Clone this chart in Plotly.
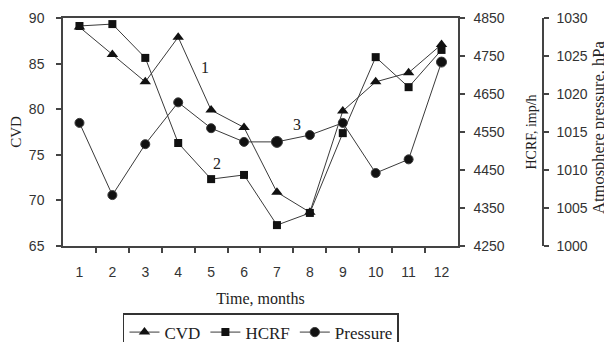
import plotly.graph_objects as go

months = [1, 2, 3, 4, 5, 6, 7, 8, 9, 10, 11, 12]
cvd = [89.0, 86.0, 83.0, 87.9, 79.9, 78.0, 70.9, 68.7, 79.8, 83.0, 84.0, 87.1]
hcrf = [4829, 4834, 4745, 4521, 4426, 4437, 4305, 4337, 4547, 4747, 4668, 4766]
pressure = [1016.2, 1006.7, 1013.4, 1018.9, 1015.5, 1013.7, 1013.7, 1014.6, 1016.2, 1009.6, 1011.4, 1024.2]

cvd_ticks = [65, 70, 75, 80, 85, 90]
hcrf_ticks = [4250, 4350, 4450, 4550, 4650, 4750, 4850]
pres_ticks = [1000, 1005, 1010, 1015, 1020, 1025, 1030]
boundaries = [m + 0.5 for m in months[:-1]]

LINE = "#3a3a3a"
MARK = "#111111"
AX = "#444444"
SERIF = "Liberation Serif"
SANS = "Liberation Sans"

XEND = 0.7328
PPOS = 0.8905

fig = go.Figure()
fig.add_trace(go.Scatter(x=months, y=cvd, name="CVD", mode="lines+markers",
                         line=dict(color=LINE, width=1),
                         marker=dict(symbol="triangle-up", size=10, color=MARK, opacity=1),
                         xaxis="x", yaxis="y"))
fig.add_trace(go.Scatter(x=months, y=hcrf, name="HCRF", mode="lines+markers",
                         line=dict(color=LINE, width=1),
                         marker=dict(symbol="square", size=8, color=MARK, opacity=1),
                         xaxis="x", yaxis="y2"))
psizes = [9] * len(months)
psizes[6] = 11
psizes[11] = 10
fig.add_trace(go.Scatter(x=months, y=pressure, name="Pressure", mode="lines+markers",
                         line=dict(color=LINE, width=1),
                         marker=dict(symbol="circle", size=psizes, color=MARK, opacity=1),
                         xaxis="x", yaxis="y3"))

tickfont = dict(family=SANS, size=14, color="#333333")
common_y = dict(showgrid=False, zeroline=False, linecolor=AX, linewidth=1.5,
                tickcolor=AX, tickwidth=1.5, ticklen=5, tickfont=tickfont)
inner = dict(ticks="inside", showticklabels=False, showline=False, showgrid=False,
             zeroline=False, tickcolor=AX, tickwidth=1.5, ticklen=5)

fig.update_layout(
    width=604, height=334,
    margin=dict(l=55, r=10, t=10, b=96, autoexpand=False),
    paper_bgcolor="white", plot_bgcolor="white",
    showlegend=True,
    xaxis=dict(domain=[0, XEND], range=[0.5, 12.5], tickvals=months,
               ticktext=[str(m) for m in months], ticks="", showgrid=False,
               zeroline=False, showline=True, mirror=True, linecolor=AX, linewidth=1.5,
               tickfont=tickfont, ticklabelstandoff=12,
               minor=dict(tickvals=boundaries, ticks="outside", ticklen=5,
                          tickcolor=AX, tickwidth=1.5, showgrid=False),
               title=dict(text="Time, months", font=dict(family=SERIF, size=16, color="#222"),
                          standoff=14),
               anchor="y"),
    xaxis2=dict(domain=[0, XEND], range=[0.5, 12.5], overlaying="x", anchor="y",
                tickvals=boundaries, **inner),
    yaxis=dict(range=[65, 90], tickvals=cvd_ticks, ticks="outside", showline=True,
               ticklabelstandoff=9, anchor="x",
               title=dict(text="CVD", font=dict(family=SERIF, size=15, color="#222"),
                          standoff=10),
               **common_y),
    yaxis4=dict(range=[65, 90], overlaying="y", side="left", anchor="x",
                tickvals=cvd_ticks, **inner),
    yaxis2=dict(range=[4250, 4850], tickvals=hcrf_ticks, ticks="outside", showline=True,
                overlaying="y", side="right", anchor="x", ticklabelstandoff=6,
                title=dict(text="HCRF, imp/h", font=dict(family=SERIF, size=14, color="#222"),
                           standoff=22),
                **common_y),
    yaxis5=dict(range=[4250, 4850], overlaying="y", side="right", anchor="x",
                tickvals=hcrf_ticks, **inner),
    yaxis3=dict(range=[1000, 1030], tickvals=pres_ticks, ticks="outside", showline=True,
                overlaying="y", side="right", anchor="free", position=PPOS,
                ticklabelstandoff=5, **common_y),
    yaxis6=dict(range=[1000, 1030], overlaying="y", side="right",
                anchor="free", position=PPOS, tickvals=pres_ticks, **inner),
    legend=dict(orientation="h", x=0.1113, xanchor="left", y=-0.294, yanchor="top",
                bordercolor="#333333", borderwidth=1.5, bgcolor="white",
                font=dict(family=SERIF, size=17, color="#222"),
                itemwidth=30, tracegroupgap=0),
    annotations=[
        dict(x=0.9935, y=0.52, xref="paper", yref="paper", text="Atmosphere pressure, hPa",
             textangle=-90, showarrow=False, xanchor="center", yanchor="middle",
             font=dict(family=SERIF, size=16.5, color="#222")),
        dict(x=4.8, y=84.6, xref="x", yref="y", text="1", showarrow=False,
             font=dict(family=SERIF, size=16, color="#222")),
        dict(x=5.17, y=74.1, xref="x", yref="y", text="2", showarrow=False,
             font=dict(family=SERIF, size=16, color="#222")),
        dict(x=7.62, y=78.3, xref="x", yref="y", text="3", showarrow=False,
             font=dict(family=SERIF, size=16, color="#222")),
    ],
)

fig.write_html("out.html")
